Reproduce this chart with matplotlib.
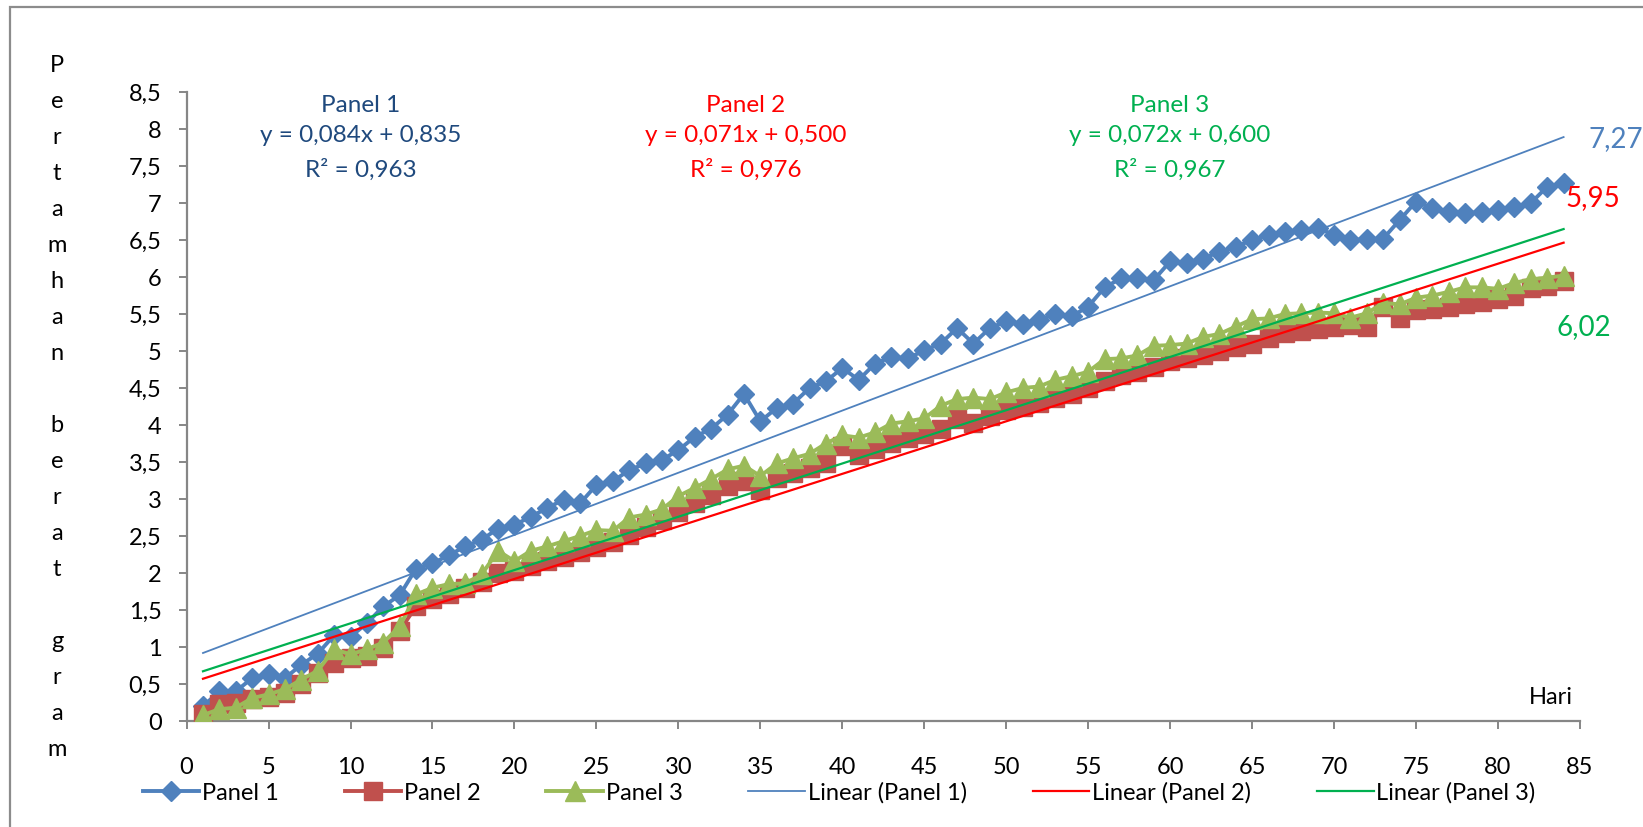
import matplotlib
matplotlib.use("Agg")
import matplotlib.pyplot as plt
from matplotlib.ticker import FuncFormatter, MultipleLocator
from matplotlib.patches import Rectangle

plt.rcParams['font.family'] = ['Lato', 'DejaVu Sans']

# ---- data -------------------------------------------------------------
days = list(range(1, 85))

panel1 = [0.20, 0.40, 0.40, 0.58, 0.64, 0.58, 0.76, 0.91, 1.16, 1.14,
          1.32, 1.55, 1.70, 2.06, 2.13, 2.24, 2.36, 2.45, 2.60, 2.65,
          2.76, 2.88, 2.99, 2.94, 3.19, 3.24, 3.39, 3.48, 3.53, 3.66,
          3.84, 3.95, 4.14, 4.42, 4.05, 4.23, 4.29, 4.50, 4.59, 4.77,
          4.61, 4.83, 4.92, 4.90, 5.01, 5.10, 5.31, 5.10, 5.31, 5.40,
          5.37, 5.42, 5.50, 5.47, 5.60, 5.86, 5.98, 5.98, 5.96, 6.21,
          6.19, 6.25, 6.34, 6.41, 6.50, 6.57, 6.61, 6.63, 6.66, 6.57,
          6.50, 6.51, 6.52, 6.77, 7.02, 6.93, 6.88, 6.86, 6.88, 6.91,
          6.95, 7.00, 7.22, 7.27]

panel2 = [0.10, 0.23, 0.25, 0.30, 0.32, 0.38, 0.50, 0.65, 0.78, 0.85,
          0.88, 0.98, 1.22, 1.55, 1.65, 1.72, 1.80, 1.88, 2.00, 2.03,
          2.10, 2.16, 2.22, 2.28, 2.35, 2.42, 2.52, 2.62, 2.72, 2.82,
          2.95, 3.05, 3.18, 3.25, 3.12, 3.28, 3.35, 3.42, 3.48, 3.72,
          3.60, 3.68, 3.76, 3.82, 3.88, 3.95, 4.08, 4.03, 4.12, 4.20,
          4.25, 4.30, 4.36, 4.42, 4.50, 4.60, 4.68, 4.72, 4.78, 4.86,
          4.90, 4.95, 5.00, 5.05, 5.10, 5.18, 5.24, 5.27, 5.30, 5.33,
          5.35, 5.33, 5.59, 5.45, 5.55, 5.57, 5.60, 5.63, 5.66, 5.70,
          5.75, 5.85, 5.88, 5.95]

panel3 = [0.08, 0.16, 0.18, 0.31, 0.36, 0.43, 0.56, 0.68, 0.97, 0.90,
          0.97, 1.06, 1.28, 1.71, 1.80, 1.85, 1.86, 1.98, 2.30, 2.16,
          2.30, 2.36, 2.43, 2.50, 2.58, 2.57, 2.75, 2.79, 2.86, 3.04,
          3.15, 3.27, 3.40, 3.45, 3.31, 3.48, 3.55, 3.61, 3.75, 3.86,
          3.83, 3.90, 4.02, 4.05, 4.09, 4.26, 4.35, 4.37, 4.35, 4.44,
          4.50, 4.52, 4.61, 4.66, 4.72, 4.89, 4.90, 4.94, 5.07, 5.08,
          5.10, 5.19, 5.23, 5.33, 5.43, 5.44, 5.50, 5.51, 5.52, 5.51,
          5.45, 5.51, 5.65, 5.63, 5.72, 5.75, 5.80, 5.86, 5.86, 5.84,
          5.92, 5.97, 5.99, 6.02]

series_names = ["Panel 1", "Panel 2", "Panel 3"]
trend_slope = [0.084, 0.071, 0.072]
trend_intercept = [0.835, 0.500, 0.600]
trend_r2 = [0.963, 0.976, 0.967]
end_labels = ["7,27", "5,95", "6,02"]
ylabel_text = "Pertamhan berat gram"
xlabel_text = "Hari"

# ---- styling ----------------------------------------------------------
W, H = 1643, 827
series_colors = ["#4F81BD", "#C0504D", "#9BBB59"]
series_markers = ["D", "s", "^"]
series_msize = [10.5, 13.5, 15]
trend_colors = ["#4F81BD", "#FF0000", "#00B050"]
trend_lw = [1.3, 1.6, 1.6]
note_colors = ["#1F497D", "#FF0000", "#00B050"]
end_colors = ["#4F81BD", "#FF0000", "#00B050"]
axis_grey = "#868686"
FS = 17


def fx(px):
    return px / W


def fy(py):
    return 1 - py / H


def comma(v, _pos=None):
    return ("%g" % v).replace(".", ",")


def dec3(v):
    return ("%.3f" % v).replace(".", ",")


fig = plt.figure(figsize=(W / 100, H / 100), dpi=100)
fig.patches.append(Rectangle((fx(10), fy(900)), fx(1700), fy(7) - fy(900),
                             transform=fig.transFigure, fill=False,
                             ec="#8c8c8c", lw=1.6))

ax = fig.add_axes([fx(186.6), fy(721), fx(1580) - fx(186.6), fy(92) - fy(721)])

handles = []
data = [panel1, panel2, panel3]
for i in range(3):
    h, = ax.plot(days, data[i], color=series_colors[i], lw=2.8,
                 marker=series_markers[i], ms=series_msize[i],
                 mfc=series_colors[i], mec=series_colors[i], zorder=2 + i,
                 label=series_names[i])
    handles.append(h)

for i in range(3):
    xs = [days[0], days[-1]]
    ys = [trend_slope[i] * x + trend_intercept[i] for x in xs]
    h, = ax.plot(xs, ys, color=trend_colors[i], lw=trend_lw[i], zorder=6 + i,
                 label="Linear (%s)" % series_names[i])
    handles.append(h)

ax.set_xlim(0, 85)
ax.set_ylim(0, 8.5)
ax.xaxis.set_major_locator(MultipleLocator(5))
ax.yaxis.set_major_locator(MultipleLocator(0.5))
ax.yaxis.set_major_formatter(FuncFormatter(comma))
for s in ("top", "right"):
    ax.spines[s].set_visible(False)
for s in ("left", "bottom"):
    ax.spines[s].set_color(axis_grey)
    ax.spines[s].set_linewidth(1.6)
ax.tick_params(axis="both", direction="out", length=6, width=1.4,
               color=axis_grey, labelsize=FS, labelcolor="black")
ax.tick_params(axis="y", pad=12)
ax.tick_params(axis="x", pad=20)

# trendline equations
note_x = [361, 746, 1170]
for i in range(3):
    eq = "y = %sx + %s" % (dec3(trend_slope[i]), dec3(trend_intercept[i]))
    r2 = "R² = %s" % dec3(trend_r2[i])
    for txt, py in zip([series_names[i], eq, r2], [105, 136, 170]):
        fig.text(fx(note_x[i]), fy(py), txt, color=note_colors[i],
                 fontsize=FS + 0.5, ha="center", va="center")

# final values
end_pos = [(1616, 139), (1593, 198), (1584, 327)]
for i in range(3):
    fig.text(fx(end_pos[i][0]), fy(end_pos[i][1]), end_labels[i],
             color=end_colors[i], fontsize=20, ha="center", va="center")

fig.text(fx(1551), fy(698), xlabel_text, fontsize=FS, ha="center",
         va="center")

# vertical axis title, one letter per line
for k, ch in enumerate(ylabel_text):
    fig.text(fx(57), fy(66 + 36 * k), ch, fontsize=FS, ha="center",
             va="center")

fig.legend(handles=handles, loc="center", bbox_to_anchor=(fx(839), fy(793)),
           ncol=6, frameon=False, fontsize=FS, handlelength=2.4,
           handletextpad=0.1, columnspacing=2.8)

fig.savefig("out.png", dpi=100, facecolor="white")
